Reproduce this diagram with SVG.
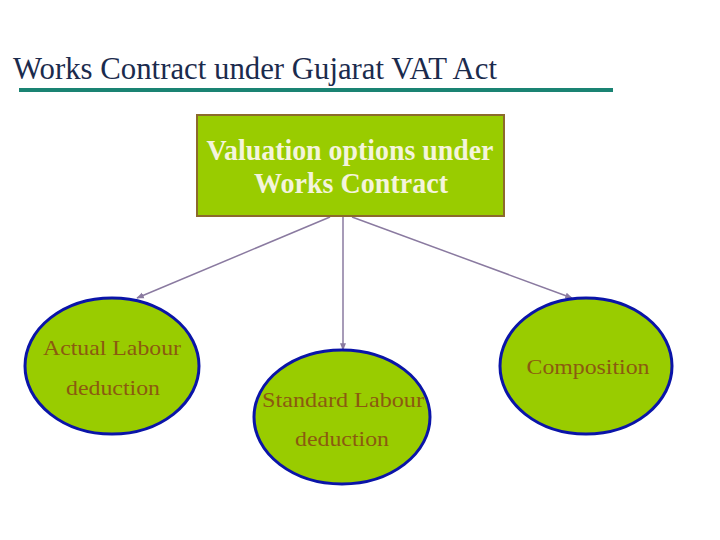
<svg xmlns="http://www.w3.org/2000/svg" width="720" height="540" viewBox="0 0 720 540">
<defs>
<style>
.title{font-family:'Liberation Serif','Times New Roman','DejaVu Serif',serif;font-size:31px;fill:#1b2b4d}
.box{fill:#99cc00;stroke:#8c6a2c;stroke-width:2}
.boxt{font-family:'Liberation Serif','Times New Roman','DejaVu Serif',serif;font-size:29px;font-weight:bold;fill:#f4f4dc;text-anchor:middle}
.ell{fill:#99cc00;stroke:#0a14a8;stroke-width:3}
.et{font-family:'Liberation Serif','Times New Roman','DejaVu Serif',serif;font-size:22px;fill:#8b5a10;text-anchor:middle}
.conn{stroke:#8a7aa0;stroke-width:1.5;fill:none;marker-end:url(#arr)}
</style>
<marker id="arr" viewBox="0 0 10 10" refX="9" refY="5" markerWidth="5" markerHeight="5" orient="auto"><path d="M0,1 L10,5 L0,9 z" fill="#8a7aa0"/></marker>
</defs>
<rect width="720" height="540" fill="#ffffff"/>
<g id="title">
<text class="title" x="13" y="79" textLength="484" lengthAdjust="spacingAndGlyphs">Works Contract under Gujarat VAT Act</text>
<rect x="19" y="88" width="594" height="4" fill="#1a8373"/>
</g>
<g id="connectors">
<line class="conn" x1="330" y1="217" x2="137" y2="298"/>
<line class="conn" x1="343" y1="217" x2="343" y2="350"/>
<line class="conn" x1="352" y1="217" x2="572" y2="298"/>
</g>
<g id="root">
<rect class="box" x="197" y="115" width="307" height="101"/>
<text class="boxt" x="350" y="160" textLength="287" lengthAdjust="spacingAndGlyphs">Valuation options under</text>
<text class="boxt" x="351" y="193" textLength="194" lengthAdjust="spacingAndGlyphs">Works Contract</text>
</g>
<g id="actual">
<ellipse class="ell" cx="112" cy="366" rx="87" ry="68"/>
<text class="et" x="112" y="355" textLength="138" lengthAdjust="spacingAndGlyphs">Actual Labour</text>
<text class="et" x="113" y="395" textLength="94" lengthAdjust="spacingAndGlyphs">deduction</text>
</g>
<g id="standard">
<ellipse class="ell" cx="342" cy="417" rx="88" ry="67"/>
<text class="et" x="343" y="407" textLength="162" lengthAdjust="spacingAndGlyphs">Standard Labour</text>
<text class="et" x="342" y="446" textLength="94" lengthAdjust="spacingAndGlyphs">deduction</text>
</g>
<g id="composition">
<ellipse class="ell" cx="586" cy="366" rx="86" ry="68"/>
<text class="et" x="588" y="374" textLength="123" lengthAdjust="spacingAndGlyphs">Composition</text>
</g>
</svg>
